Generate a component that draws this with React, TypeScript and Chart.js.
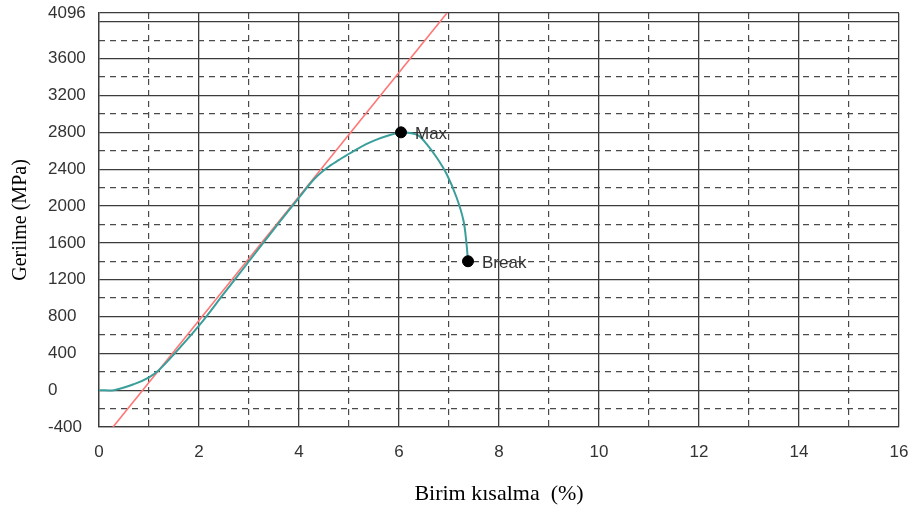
import React, { useEffect, useRef } from 'react';
import { Chart, registerables } from 'chart.js';

Chart.register(...registerables);

// Axis ticks
const xMajorTicks = [0, 2, 4, 6, 8, 10, 12, 14, 16];
const xMinorTicks = [1, 3, 5, 7, 9, 11, 13, 15];
const yMajorTicks = [-400, 0, 400, 800, 1200, 1600, 2000, 2400, 2800, 3200, 3600, 4000, 4096];
const yMinorTicks = [-200, 200, 600, 1000, 1400, 1800, 2200, 2600, 3000, 3400, 3800];
const yUnlabeled = [4000];

// Stress-strain curve (teal)
const curveX = [0, 0.3, 0.7, 1.0, 1.2, 1.5, 2.0, 2.5, 3.0, 3.5, 4.0, 4.3, 4.55, 4.8, 5.1, 5.5, 6.04, 6.25, 6.4, 6.55, 6.75, 6.95, 7.15, 7.29, 7.35, 7.38];
const curveY = [0, 0, 65, 140, 220, 390, 700, 1050, 1400, 1750, 2090, 2290, 2410, 2500, 2600, 2710, 2800, 2790, 2762, 2675, 2530, 2350, 2095, 1840, 1590, 1400];

// Elastic line (red)
const elasticX = [0.28, 6.96];
const elasticY = [-400, 4096];

// Marked points
const markerLabels = ['Max', 'Break'];
const markerX = [6.04, 7.38];
const markerY = [2800, 1400];

const xTitle = 'Birim kısalma  (%)';
const yTitle = 'Gerilme (MPa)';

const sans = '"Liberation Sans", Arial, sans-serif';
const serif = '"Liberation Serif", "Times New Roman", serif';
const solidGrid = '#3c3c3c';
const dashGrid = '#4a4a4a';

const markerLabelPlugin = {
  id: 'markerLabels',
  afterDatasetsDraw(chart: any) {
    const meta = chart.getDatasetMeta(0);
    const ctx = chart.ctx;
    ctx.save();
    ctx.font = `17px ${sans}`;
    ctx.fillStyle = '#333';
    ctx.textBaseline = 'middle';
    ctx.textAlign = 'left';
    meta.data.forEach((pt: any, i: number) => {
      ctx.fillText(markerLabels[i], pt.x + 14, pt.y + 2);
    });
    ctx.restore();
  },
};

export default function App() {
  const ref = useRef<HTMLCanvasElement | null>(null);

  useEffect(() => {
    document.body.style.margin = '0';
    if (!ref.current) return;
    const chart = new Chart(ref.current, {
      type: 'scatter',
      data: {
        datasets: [
          {
            label: 'points',
            data: markerX.map((x, i) => ({ x, y: markerY[i] })),
            backgroundColor: '#000',
            borderColor: '#000',
            pointRadius: 5.5,
            showLine: false,
            xAxisID: 'x',
            yAxisID: 'y',
          },
          {
            label: 'curve',
            type: 'line',
            data: curveX.map((x, i) => ({ x, y: curveY[i] })),
            borderColor: '#3a9e9a',
            borderWidth: 2,
            pointRadius: 0,
            tension: 0.35,
            fill: false,
            xAxisID: 'x',
            yAxisID: 'y',
          },
          {
            label: 'elastic',
            type: 'line',
            data: elasticX.map((x, i) => ({ x, y: elasticY[i] })),
            borderColor: '#ff7676',
            borderWidth: 1.6,
            pointRadius: 0,
            fill: false,
            xAxisID: 'x',
            yAxisID: 'y',
          },
        ],
      } as any,
      options: {
        animation: false,
        responsive: false,
        layout: { padding: { left: 0, top: 13, right: 15, bottom: 0 } },
        plugins: {
          legend: { display: false },
          tooltip: { enabled: false },
        },
        scales: {
          x: {
            type: 'linear',
            position: 'bottom',
            weight: 0,
            min: 0,
            max: 16,
            afterBuildTicks: (s: any) => {
              s.ticks = xMajorTicks.map((v) => ({ value: v }));
            },
            afterFit: (s: any) => {
              s.height = 85;
            },
            ticks: {
              font: { family: sans, size: 17 },
              color: '#333',
              padding: 0,
              maxRotation: 0,
              autoSkip: false,
              callback: (v: any) => String(v),
            },
            grid: {
              color: solidGrid,
              lineWidth: 1.3,
              drawTicks: true,
              tickLength: 15,
              tickColor: 'rgba(0,0,0,0)',
            },
            border: { color: solidGrid, width: 1.3 },
            title: {
              display: true,
              text: xTitle,
              font: { family: serif, size: 22 },
              color: '#000',
              padding: { top: 0, bottom: 5 },
            },
          },
          x2: {
            type: 'linear',
            position: 'bottom',
            weight: 1,
            min: 0,
            max: 16,
            afterBuildTicks: (s: any) => {
              s.ticks = xMinorTicks.map((v) => ({ value: v }));
            },
            afterFit: (s: any) => {
              s.height = 0;
            },
            ticks: { display: false, padding: 0 },
            grid: { color: dashGrid, lineWidth: 1.2, drawTicks: false },
            border: { display: false, dash: [6, 5] },
          },
          y: {
            type: 'linear',
            position: 'left',
            weight: 0,
            min: -400,
            max: 4096,
            afterBuildTicks: (s: any) => {
              s.ticks = yMajorTicks.map((v) => ({ value: v }));
            },
            afterFit: (s: any) => {
              s.width = 51;
            },
            ticks: {
              font: { family: sans, size: 17 },
              color: '#333',
              crossAlign: 'far',
              padding: 0,
              autoSkip: false,
              callback: (v: any) => (yUnlabeled.includes(v) ? '' : String(v)),
            },
            grid: { color: solidGrid, lineWidth: 1.3, drawTicks: false },
            border: { color: solidGrid, width: 1.3 },
          },
          y2: {
            type: 'linear',
            position: 'left',
            weight: 1,
            min: -400,
            max: 4096,
            afterBuildTicks: (s: any) => {
              s.ticks = yMinorTicks.map((v) => ({ value: v }));
            },
            afterFit: (s: any) => {
              s.width = 48;
            },
            ticks: { display: false, padding: 0 },
            grid: { color: dashGrid, lineWidth: 1.2, drawTicks: false },
            border: { display: false, dash: [6, 5] },
            title: {
              display: true,
              text: yTitle,
              font: { family: serif, size: 20 },
              color: '#000',
              padding: { top: 9, bottom: 0 },
            },
          },
        },
      } as any,
      plugins: [markerLabelPlugin],
    });
    return () => chart.destroy();
  }, []);

  return (
    <div style={{ width: 914, height: 512 }}>
      <canvas ref={ref} width={914} height={512} />
    </div>
  );
}
